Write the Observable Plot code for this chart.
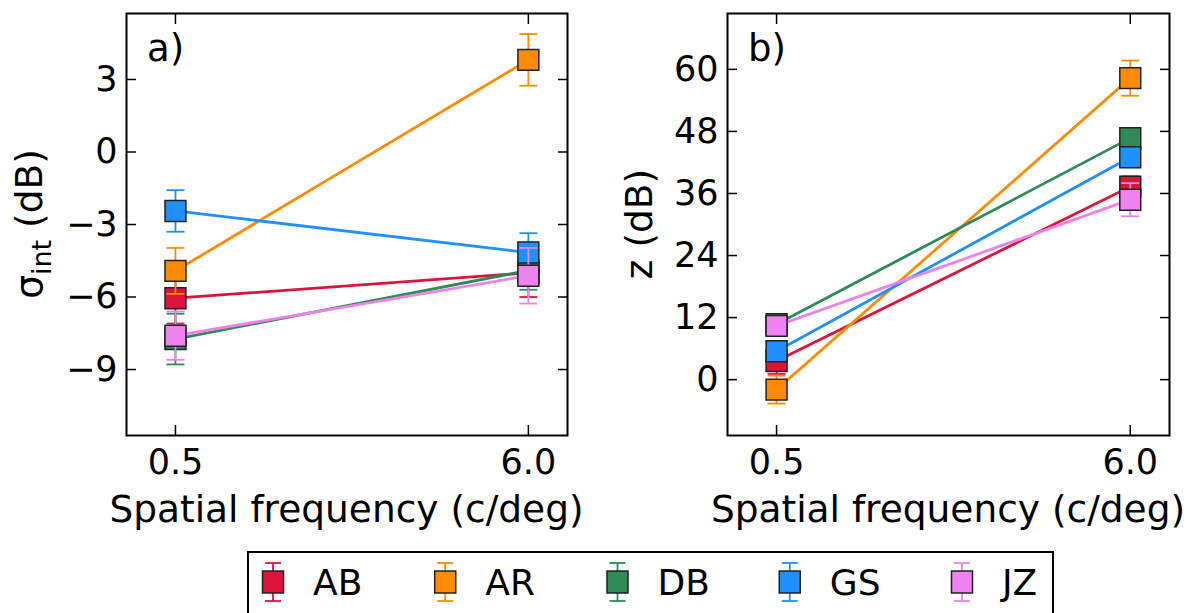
<!DOCTYPE html>
<html><head><meta charset="utf-8">
<script src="https://cdn.jsdelivr.net/npm/d3@7"></script>
<script src="https://cdn.jsdelivr.net/npm/@observablehq/plot@0.6"></script>
<style>
body{margin:0;background:#fff;font-family:"DejaVu Sans",sans-serif;}
#wrap{position:relative;width:1186px;height:613px;overflow:hidden;background:#fff;}
.panel{position:absolute;top:0;}
</style></head><body><div id="wrap"></div>
<script>
// ---- data ----
const freqs = [0.5, 6.0];
const freqTicks = [0.5, 6.0];
const subjects = ["AB", "AR", "DB", "GS", "JZ"];
const colors = ["#DC143C", "#FF8C00", "#2E8B57", "#1E90FF", "#EE82EE"];

const sigmaAB = [-6.05, -5.0];
const sigmaAR = [-4.92, 3.81];
const sigmaDB = [-7.74, -4.9];
const sigmaGS = [-2.44, -4.16];
const sigmaJZ = [-7.6, -5.12];
const sigmaErrAB = [1.05, 1.0];
const sigmaErrAR = [0.95, 1.07];
const sigmaErrDB = [1.05, 0.8];
const sigmaErrGS = [0.86, 0.8];
const sigmaErrJZ = [1.0, 1.15];

const zAB = [3.6, 37.3];
const zAR = [-1.93, 58.3];
const zDB = [10.7, 46.7];
const zGS = [5.5, 43.0];
const zJZ = [10.4, 34.8];
const zErrAB = [2.5, 2.0];
const zErrAR = [2.7, 3.4];
const zErrDB = [1.5, 1.5];
const zErrGS = [1.5, 1.5];
const zErrJZ = [1.5, 3.2];

const sigmaTicks = [3, 0, -3, -6, -9];
const zTicks = [0, 12, 24, 36, 48, 60];

const sigmaVals = [sigmaAB, sigmaAR, sigmaDB, sigmaGS, sigmaJZ];
const sigmaErrs = [sigmaErrAB, sigmaErrAR, sigmaErrDB, sigmaErrGS, sigmaErrJZ];
const zVals = [zAB, zAR, zDB, zGS, zJZ];
const zErrs = [zErrAB, zErrAR, zErrDB, zErrGS, zErrJZ];

// ---- helpers ----
const capSymbol = {
  draw(context, size) {
    const w = Math.sqrt(size / Math.PI);
    context.moveTo(-w, 0);
    context.lineTo(w, 0);
  }
};

function seriesMarks(vals, errs) {
  const marks = [];
  subjects.forEach((s, i) => {
    const data = freqs.map((f, j) => ({subject: s, freq: f, value: vals[i][j], err: errs[i][j]}));
    const c = colors[i];
    marks.push(
      Plot.ruleX(data, {x: "freq", y1: d => d.value - d.err, y2: d => d.value + d.err, stroke: c, strokeWidth: 1.8}),
      Plot.dot(data, {x: "freq", y: d => d.value - d.err, symbol: capSymbol, r: 9, stroke: c, strokeWidth: 1.8, fill: "none"}),
      Plot.dot(data, {x: "freq", y: d => d.value + d.err, symbol: capSymbol, r: 9, stroke: c, strokeWidth: 1.8, fill: "none"}),
      Plot.line(data, {x: "freq", y: "value", stroke: c, strokeWidth: 2.8}),
      Plot.dot(data, {x: "freq", y: "value", symbol: "square", r: 11.8, fill: c, stroke: "#222", strokeWidth: 1.5})
    );
  });
  return marks;
}

function axisMarks(yTicks) {
  return [
    Plot.axisY(yTicks, {anchor: "left", tickSize: 0, tickPadding: 9, label: null, fontSize: 35}),
    Plot.axisY(yTicks, {anchor: "left", tickSize: -10, tickFormat: () => "", label: null, strokeWidth: 1.5}),
    Plot.axisY(yTicks, {anchor: "right", tickSize: -10, tickFormat: () => "", label: null, strokeWidth: 1.5}),
    Plot.axisX(freqTicks, {anchor: "bottom", tickSize: 0, tickPadding: 14, tickFormat: d3.format(".1f"), label: null, fontSize: 35}),
    Plot.axisX(freqTicks, {anchor: "bottom", tickSize: -10, tickFormat: () => "", label: null, strokeWidth: 1.5}),
    Plot.axisX(freqTicks, {anchor: "top", tickSize: -10, tickFormat: () => "", label: null, strokeWidth: 1.5}),
    Plot.frame({stroke: "black", strokeWidth: 2})
  ];
}

function makePanel({left, marginLeft, marginRight, yDomain, yTicks, vals, errs, letter, yLabel, yLabelX, sub}) {
  const W = 593, H = 540;
  const plot = Plot.plot({
    width: W, height: H,
    marginLeft, marginRight, marginTop: 13, marginBottom: 105,
    style: {fontFamily: "DejaVu Sans", fontSize: "35px", color: "black", background: "white", overflow: "visible"},
    x: {type: "linear", domain: [-0.263, 6.61]},
    y: {domain: yDomain},
    marks: [...seriesMarks(vals, errs), ...axisMarks(yTicks)]
  });
  const svg = d3.select(plot);
  const cx = (marginLeft + (W - marginRight)) / 2;
  // x label
  svg.append("text").attr("x", cx).attr("y", 522).attr("text-anchor", "middle")
    .attr("font-size", 37.5).attr("font-family", "DejaVu Sans").attr("fill", "black")
    .text("Spatial frequency (c/deg)");
  // panel letter
  svg.append("text").attr("x", marginLeft + 21).attr("y", 61).attr("font-size", 37)
    .attr("text-anchor", "start")
    .attr("font-family", "DejaVu Sans").attr("fill", "black").text(letter);
  // y label
  const t = svg.append("text").attr("transform", `translate(${yLabelX},${(13 + 435) / 2}) rotate(-90)`)
    .attr("text-anchor", "middle").attr("font-size", 37.5).attr("font-family", "DejaVu Sans").attr("fill", "black");
  if (sub) {
    t.append("tspan").text(yLabel);
    t.append("tspan").attr("font-size", 27).attr("dy", 9).text(sub);
    t.append("tspan").attr("dy", -9).text(" (dB)");
  } else {
    t.text(yLabel + " (dB)");
  }
  const div = document.createElement("div");
  div.className = "panel";
  div.style.left = left + "px";
  div.appendChild(plot);
  document.getElementById("wrap").appendChild(div);
}

makePanel({left: 0, marginLeft: 126, marginRight: 26, yDomain: [-11.73, 5.73], yTicks: sigmaTicks,
  vals: sigmaVals, errs: sigmaErrs, letter: "a)", yLabel: "σ", sub: "int", yLabelX: 42});
makePanel({left: 593, marginLeft: 134, marginRight: 17, yDomain: [-10.8, 70.8], yTicks: zTicks,
  vals: zVals, errs: zErrs, letter: "b)", yLabel: "z", sub: null, yLabelX: 59});

// ---- legend ----
const lg = d3.select("#wrap").append("svg")
  .attr("width", 810).attr("height", 70)
  .style("position", "absolute").style("left", "247px").style("top", "551px");
lg.append("rect").attr("x", 1).attr("y", 1).attr("width", 805).attr("height", 80)
  .attr("fill", "white").attr("stroke", "black").attr("stroke-width", 2);
subjects.forEach((s, i) => {
  const mx = 26 + i * 172.25, my = 31;
  const g = lg.append("g").attr("transform", `translate(${mx},${my})`);
  g.append("line").attr("x1", 0).attr("x2", 0).attr("y1", -19).attr("y2", 19).attr("stroke", colors[i]).attr("stroke-width", 1.8);
  g.append("line").attr("x1", -8).attr("x2", 8).attr("y1", -19).attr("y2", -19).attr("stroke", colors[i]).attr("stroke-width", 1.8);
  g.append("line").attr("x1", -8).attr("x2", 8).attr("y1", 19).attr("y2", 19).attr("stroke", colors[i]).attr("stroke-width", 1.8);
  g.append("rect").attr("x", -10.5).attr("y", -11).attr("width", 21).attr("height", 22)
    .attr("fill", colors[i]).attr("stroke", "#222").attr("stroke-width", 1.5);
  lg.append("text").attr("x", mx + 40).attr("y", my + 13).attr("font-size", 36)
    .attr("font-family", "DejaVu Sans").attr("fill", "black").text(s);
});
</script></body></html>
